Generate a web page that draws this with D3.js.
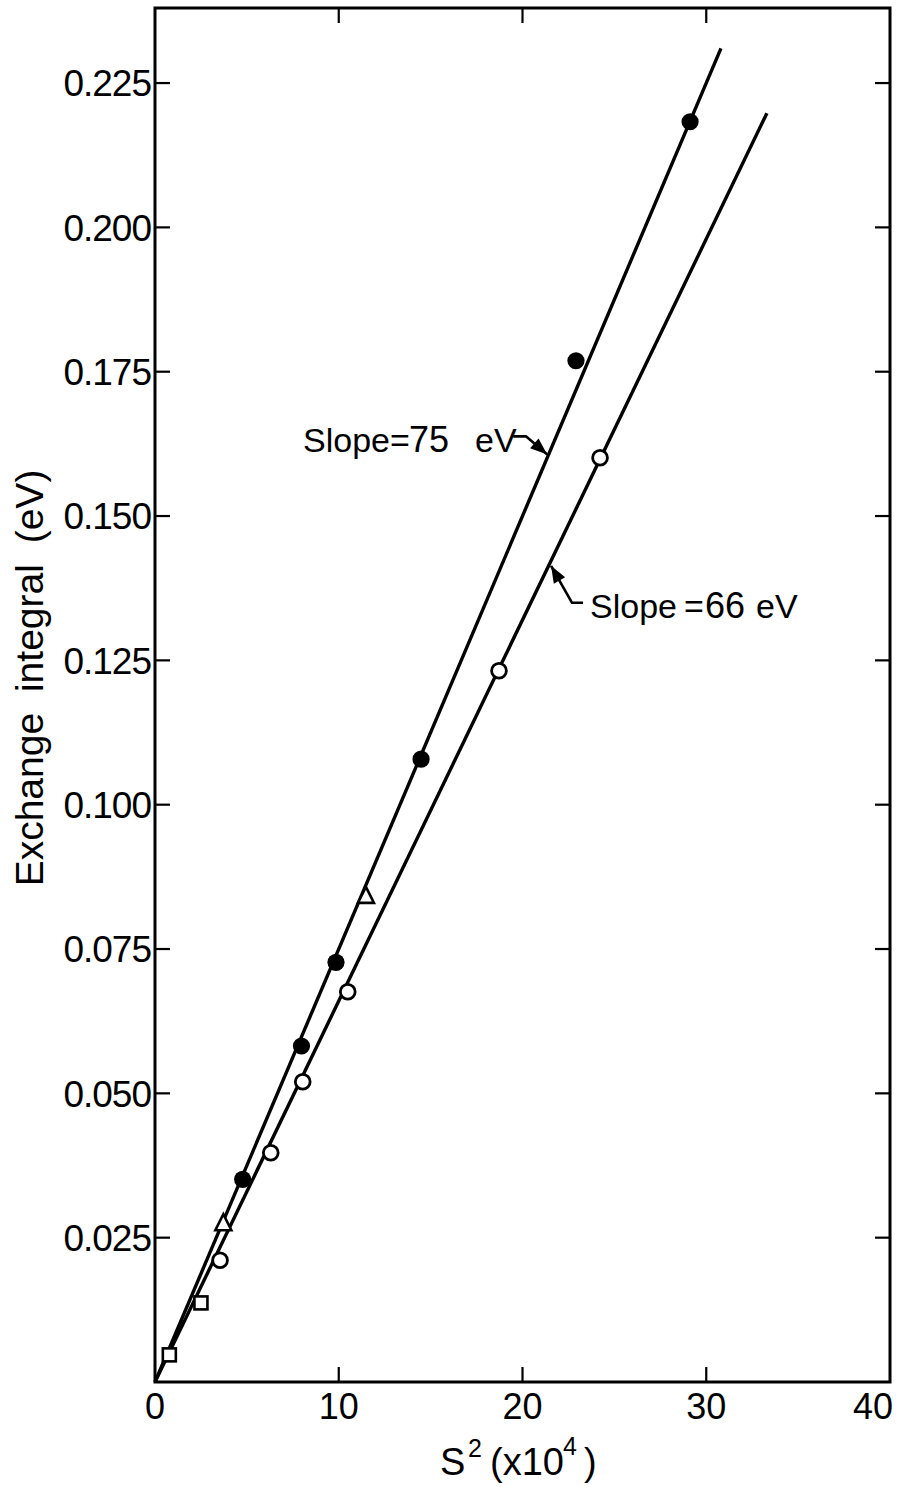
<!DOCTYPE html>
<html>
<head>
<meta charset="utf-8">
<script src="https://cdn.jsdelivr.net/npm/d3@7"></script>
<style>
  html, body { margin: 0; padding: 0; background: #fff; }
  svg { display: block; }
  text { font-family: "Liberation Sans", Arial, sans-serif; fill: #000; }
</style>
</head>
<body>
<div id="chart"></div>
<script>
// Exchange integral vs. S^2 — measured points and two fitted lines through the origin.

// Filled circles (upper set, fitted by the 75 eV line)
const filledX = [4.77, 7.97, 9.85, 14.48, 22.91, 29.12];
const filledY = [0.0351, 0.0582, 0.0727, 0.1079, 0.1769, 0.2183];

// Open circles (lower set, fitted by the 66 eV line)
const openX = [3.54, 6.30, 8.04, 10.49, 18.72, 24.22];
const openY = [0.0211, 0.0397, 0.0520, 0.0676, 0.1232, 0.1601];

// Open triangles
const triX = [3.72, 11.48];
const triY = [0.0275, 0.0842];

// Open squares
const sqX = [0.78, 2.50];
const sqY = [0.0047, 0.0137];

// Fitted lines: slope in eV (per 10^4 units of S^2 -> value/10^4), drawn from the origin
const lineSlopes = [75, 66];
const lineEnds = [30.8, 33.3];

// Axis ticks
const xTicks = [0, 10, 20, 30, 40];
const xTickLabels = ["0", "10", "20", "30", "40"];
const yTicks = [0.025, 0.05, 0.075, 0.1, 0.125, 0.15, 0.175, 0.2, 0.225];
const yTickLabels = ["0.025", "0.050", "0.075", "0.100", "0.125", "0.150", "0.175", "0.200", "0.225"];

const W = 902, H = 1487;
const svg = d3.select("#chart").append("svg").attr("width", W).attr("height", H);

const x = d3.scaleLinear().domain([0, 40]).range([155, 890]);
const y = d3.scaleLinear().domain([0, 0.238]).range([1382, 8]);

const ink = "#000";

// Frame
svg.append("rect")
  .attr("x", x(0)).attr("y", y(0.238))
  .attr("width", x(40) - x(0)).attr("height", y(0) - y(0.238))
  .attr("fill", "none").attr("stroke", ink).attr("stroke-width", 3);

// Inward ticks on all four sides
const tickLen = 15;
const inner = xTicks.filter(v => v > 0 && v < 40);
svg.append("g").selectAll("line").data(inner).join("line")
  .attr("x1", d => x(d)).attr("x2", d => x(d))
  .attr("y1", y(0)).attr("y2", y(0) - tickLen)
  .attr("stroke", ink).attr("stroke-width", 2.2);
svg.append("g").selectAll("line").data(inner).join("line")
  .attr("x1", d => x(d)).attr("x2", d => x(d))
  .attr("y1", y(0.238)).attr("y2", y(0.238) + tickLen)
  .attr("stroke", ink).attr("stroke-width", 2.2);
svg.append("g").selectAll("line").data(yTicks).join("line")
  .attr("x1", x(0)).attr("x2", x(0) + tickLen)
  .attr("y1", d => y(d)).attr("y2", d => y(d))
  .attr("stroke", ink).attr("stroke-width", 2.2);
svg.append("g").selectAll("line").data(yTicks).join("line")
  .attr("x1", x(40)).attr("x2", x(40) - tickLen)
  .attr("y1", d => y(d)).attr("y2", d => y(d))
  .attr("stroke", ink).attr("stroke-width", 2.2);

// Tick labels
svg.append("g").selectAll("text").data(yTicks).join("text")
  .attr("x", x(0) - 4).attr("y", d => y(d))
  .attr("dy", "0.36em")
  .attr("text-anchor", "end")
  .attr("font-size", 37)
  .attr("letter-spacing", -1)
  .text((d, i) => yTickLabels[i]);

svg.append("g").selectAll("text").data(xTicks).join("text")
  .attr("x", (d, i) => i === xTicks.length - 1 ? x(d) + 3 : x(d))
  .attr("y", y(0) + 37)
  .attr("text-anchor", (d, i) => i === xTicks.length - 1 ? "end" : "middle")
  .attr("font-size", 36)
  .text((d, i) => xTickLabels[i]);

// Axis titles
const xt = svg.append("text").attr("y", 1475).attr("font-size", 38);
xt.append("tspan").attr("x", 440).text("S");
xt.append("tspan").attr("x", 468).attr("dy", -18).attr("font-size", 25).text("2");
xt.append("tspan").attr("x", 490).attr("dy", 18).text("(x10");
xt.append("tspan").attr("x", 563).attr("dy", -20).attr("font-size", 25).text("4");
xt.append("tspan").attr("x", 584).attr("dy", 20).text(")");

svg.append("text")
  .attr("transform", "translate(43,678) rotate(-90)")
  .attr("text-anchor", "middle")
  .attr("font-size", 39)
  .attr("word-spacing", 10)
  .text("Exchange integral (eV)");

// Fitted lines
const fit = lineSlopes.map((s, i) => [[0, 0], [lineEnds[i], s * lineEnds[i] / 1e4]]);
const lineGen = d3.line().x(d => x(d[0])).y(d => y(d[1]));
svg.append("g").selectAll("path").data(fit).join("path")
  .attr("d", lineGen)
  .attr("fill", "none").attr("stroke", ink).attr("stroke-width", 3.4);

// Markers
const pts = (xs, ys) => xs.map((v, i) => [v, ys[i]]);

svg.append("g").selectAll("circle").data(pts(openX, openY)).join("circle")
  .attr("cx", d => x(d[0])).attr("cy", d => y(d[1])).attr("r", 7.4)
  .attr("fill", "#fff").attr("stroke", ink).attr("stroke-width", 2.8);

svg.append("g").selectAll("circle").data(pts(filledX, filledY)).join("circle")
  .attr("cx", d => x(d[0])).attr("cy", d => y(d[1])).attr("r", 8.6)
  .attr("fill", ink);

svg.append("g").selectAll("path").data(pts(triX, triY)).join("path")
  .attr("transform", d => `translate(${x(d[0])},${y(d[1])})`)
  .attr("d", "M0,-9 L8,7 L-8,7 Z")
  .attr("fill", "#fff").attr("stroke", ink).attr("stroke-width", 2.6)
  .attr("stroke-linejoin", "miter");

svg.append("g").selectAll("rect").data(pts(sqX, sqY)).join("rect")
  .attr("x", d => x(d[0]) - 6.5).attr("y", d => y(d[1]) - 6.5)
  .attr("width", 13).attr("height", 13)
  .attr("fill", "#fff").attr("stroke", ink).attr("stroke-width", 2.6);

// Slope annotations: a bent leader ending in a filled arrowhead on the line
function leader(points) {
  svg.append("path")
    .attr("d", d3.line()(points))
    .attr("fill", "none").attr("stroke", ink).attr("stroke-width", 2.6)
    .attr("stroke-linejoin", "round");
  const [px, py] = points[points.length - 2];
  const [tx, ty] = points[points.length - 1];
  const len = Math.hypot(tx - px, ty - py);
  const ux = (tx - px) / len, uy = (ty - py) / len;
  const hl = 17, hw = 6.5;
  const bx = tx - ux * hl, by = ty - uy * hl;
  svg.append("path")
    .attr("d", `M${tx},${ty} L${bx - uy * hw},${by + ux * hw} L${bx + uy * hw},${by - ux * hw} Z`)
    .attr("fill", ink);
}

// upper line label
const a1x = x(21.4), a1y = y(lineSlopes[0] * 21.4 / 1e4);
leader([[a1x - 35, a1y - 19], [a1x - 22, a1y - 19], [a1x - 1, a1y - 1]]);
const t1 = svg.append("text").attr("y", 452).attr("font-size", 34);
t1.append("tspan").attr("x", 303).text("Slope");
t1.append("tspan").attr("x", 390).text("=");
t1.append("tspan").attr("x", 409).attr("font-size", 36).text("75");
t1.append("tspan").attr("x", 475).text("eV");

// lower line label
const a2x = x(21.5), a2y = y(lineSlopes[1] * 21.5 / 1e4);
leader([[a2x + 33, a2y + 40], [a2x + 22, a2y + 40], [a2x + 1, a2y + 3]]);
const t2 = svg.append("text").attr("y", 618).attr("font-size", 34);
t2.append("tspan").attr("x", 590).text("Slope");
t2.append("tspan").attr("x", 684).text("=");
t2.append("tspan").attr("x", 705).attr("font-size", 36).text("66");
t2.append("tspan").attr("x", 756).text("eV");
</script>
</body>
</html>
